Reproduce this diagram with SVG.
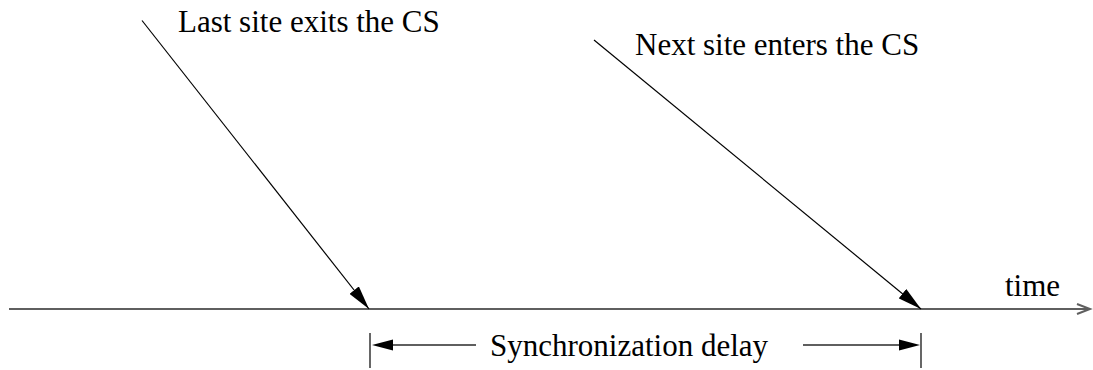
<svg xmlns="http://www.w3.org/2000/svg" width="1093" height="370" viewBox="0 0 1093 370">
<style>
text{font-family:"Liberation Serif","Times New Roman",serif;font-size:31px;fill:#000}
.thin{stroke:#000;stroke-width:1.2;fill:none}
.gray{stroke:#5f5f5f;stroke-width:2;fill:none}
.head{fill:#000;stroke:none}
</style>
<defs>
<marker id="fa" viewBox="0 0 24 12" refX="24" refY="6" markerWidth="24" markerHeight="12" markerUnits="userSpaceOnUse" orient="auto">
<path d="M0,0 L24,6 L0,12 Z" fill="#000"/>
</marker>
</defs>
<g id="labels">
<g id="lastExit"><text x="178" y="32">Last site exits the CS</text></g>
<g id="nextEnter"><text x="635" y="55">Next site enters the CS</text></g>
<g id="timeLabel"><text x="1005" y="296">time</text></g>
<g id="syncLabel"><text x="490" y="356">Synchronization delay</text></g>
</g>
<g id="connectors">
<line class="gray" x1="9" y1="309" x2="1090" y2="309"/>
<polyline class="gray" points="1077,304 1090,309 1077,314" stroke-width="1.4"/>
<line class="thin" x1="142" y1="20.5" x2="369" y2="309" marker-end="url(#fa)"/>
<line class="thin" x1="594" y1="40" x2="921" y2="309" marker-end="url(#fa)"/>
<line class="thin" x1="370" y1="333" x2="370" y2="368"/>
<line class="thin" x1="921" y1="333" x2="921" y2="368"/>
<line class="gray" x1="392" y1="345" x2="476" y2="345"/>
<line class="gray" x1="803" y1="345" x2="901" y2="345"/>
<path class="head" d="M372,345 L393,339.5 L393,350.5 Z"/>
<path class="head" d="M920,345 L899,339.5 L899,350.5 Z"/>
</g>
</svg>
